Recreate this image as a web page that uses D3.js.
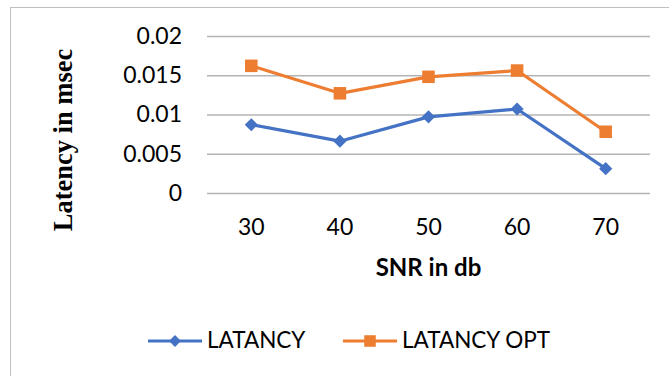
<!DOCTYPE html>
<html>
<head>
<meta charset="utf-8">
<script src="https://cdn.jsdelivr.net/npm/d3@7"></script>
<style>
  html, body { margin: 0; padding: 0; background: #fff; }
  svg { display: block; }
</style>
</head>
<body>
<div id="chart"></div>
<script>
// SNR levels and measured latency (msec)
const snr = ["30", "40", "50", "60", "70"];
const latency = [0.0087, 0.0066, 0.0097, 0.0107, 0.0031];
const latencyOpt = [0.0162, 0.0127, 0.0148, 0.0156, 0.0078];
const yTicks = [0, 0.005, 0.01, 0.015, 0.02];
const yTickLabels = ["0", "0.005", "0.01", "0.015", "0.02"];
const seriesNames = ["LATANCY", "LATANCY OPT"];

const W = 669, H = 376;
const margin = { left: 207, right: 19, top: 36, bottom: 183 };
const blue = "#4472C4", orange = "#ED7D31";
const sans = "Lato, 'Open Sans', sans-serif";

const svg = d3.select("#chart").append("svg")
  .attr("width", W).attr("height", H);

// chart frame
svg.append("rect")
  .attr("x", 10.5).attr("y", 7.5)
  .attr("width", W + 10).attr("height", H + 10)
  .attr("fill", "#fff").attr("stroke", "#bfbfbf").attr("stroke-width", 1);

const x = d3.scaleBand().domain(snr).range([margin.left, W - margin.right]);
const y = d3.scaleLinear().domain([0, 0.02]).range([H - margin.bottom, margin.top]);

// horizontal gridlines
const yAxis = d3.axisLeft(y).tickValues(yTicks)
  .tickFormat((d, i) => yTickLabels[i])
  .tickSize(-(W - margin.right - margin.left)).tickPadding(25);
const gy = svg.append("g").attr("transform", `translate(${margin.left},0)`).call(yAxis);
gy.select(".domain").remove();
gy.selectAll(".tick line").attr("stroke", "#b4b4b4").attr("stroke-width", 1.3);
gy.selectAll(".tick text").attr("font-family", sans).attr("font-size", 23)
  .attr("fill", "#000");

// category axis labels
const xAxis = d3.axisBottom(x).tickSize(0).tickPadding(26);
const gx = svg.append("g").attr("transform", `translate(0,${H - margin.bottom})`).call(xAxis);
gx.select(".domain").remove();
gx.selectAll(".tick text").attr("font-family", sans).attr("font-size", 23)
  .attr("fill", "#000");

// axis titles
svg.append("text")
  .attr("x", (margin.left + W - margin.right) / 2).attr("y", 276)
  .attr("text-anchor", "middle")
  .attr("font-family", sans).attr("font-weight", "bold").attr("font-size", 24)
  .text("SNR in db");

svg.append("text")
  .attr("transform", "translate(72,140) rotate(-90)")
  .attr("text-anchor", "middle")
  .attr("font-family", "'Liberation Serif', 'Times New Roman', serif")
  .attr("font-weight", "bold").attr("font-size", 26.5)
  .text("Latency in msec");

const cx = d => x(d) + x.bandwidth() / 2;
const line = vals => d3.line().x((d, i) => cx(snr[i])).y(d => y(d))(vals);

const diamond = d3.symbol().type(d3.symbolDiamond2).size(110);
const square = d3.symbol().type(d3.symbolSquare2).size(200);

function drawSeries(vals, color, sym) {
  svg.append("path").attr("d", line(vals))
    .attr("fill", "none").attr("stroke", color).attr("stroke-width", 3.2)
    .attr("stroke-linejoin", "round");
  svg.selectAll(null).data(vals).enter().append("path")
    .attr("d", sym)
    .attr("transform", (d, i) => `translate(${cx(snr[i])},${y(d)})`)
    .attr("fill", color);
}
drawSeries(latency, blue, diamond);
drawSeries(latencyOpt, orange, square);

// legend
const legend = [
  { name: seriesNames[0], color: blue, sym: d3.symbol().type(d3.symbolDiamond2).size(90), x0: 148 },
  { name: seriesNames[1], color: orange, sym: d3.symbol().type(d3.symbolSquare2).size(170), x0: 343 }
];
const ly = 341;
legend.forEach(l => {
  const g = svg.append("g");
  g.append("line").attr("x1", l.x0).attr("x2", l.x0 + 54)
    .attr("y1", ly).attr("y2", ly)
    .attr("stroke", l.color).attr("stroke-width", 3);
  g.append("path").attr("d", l.sym)
    .attr("transform", `translate(${l.x0 + 27},${ly})`).attr("fill", l.color);
  g.append("text").attr("x", l.x0 + 59).attr("y", 348)
    .attr("font-family", sans).attr("font-size", 22.5)
    .text(l.name);
});
</script>
</body>
</html>
